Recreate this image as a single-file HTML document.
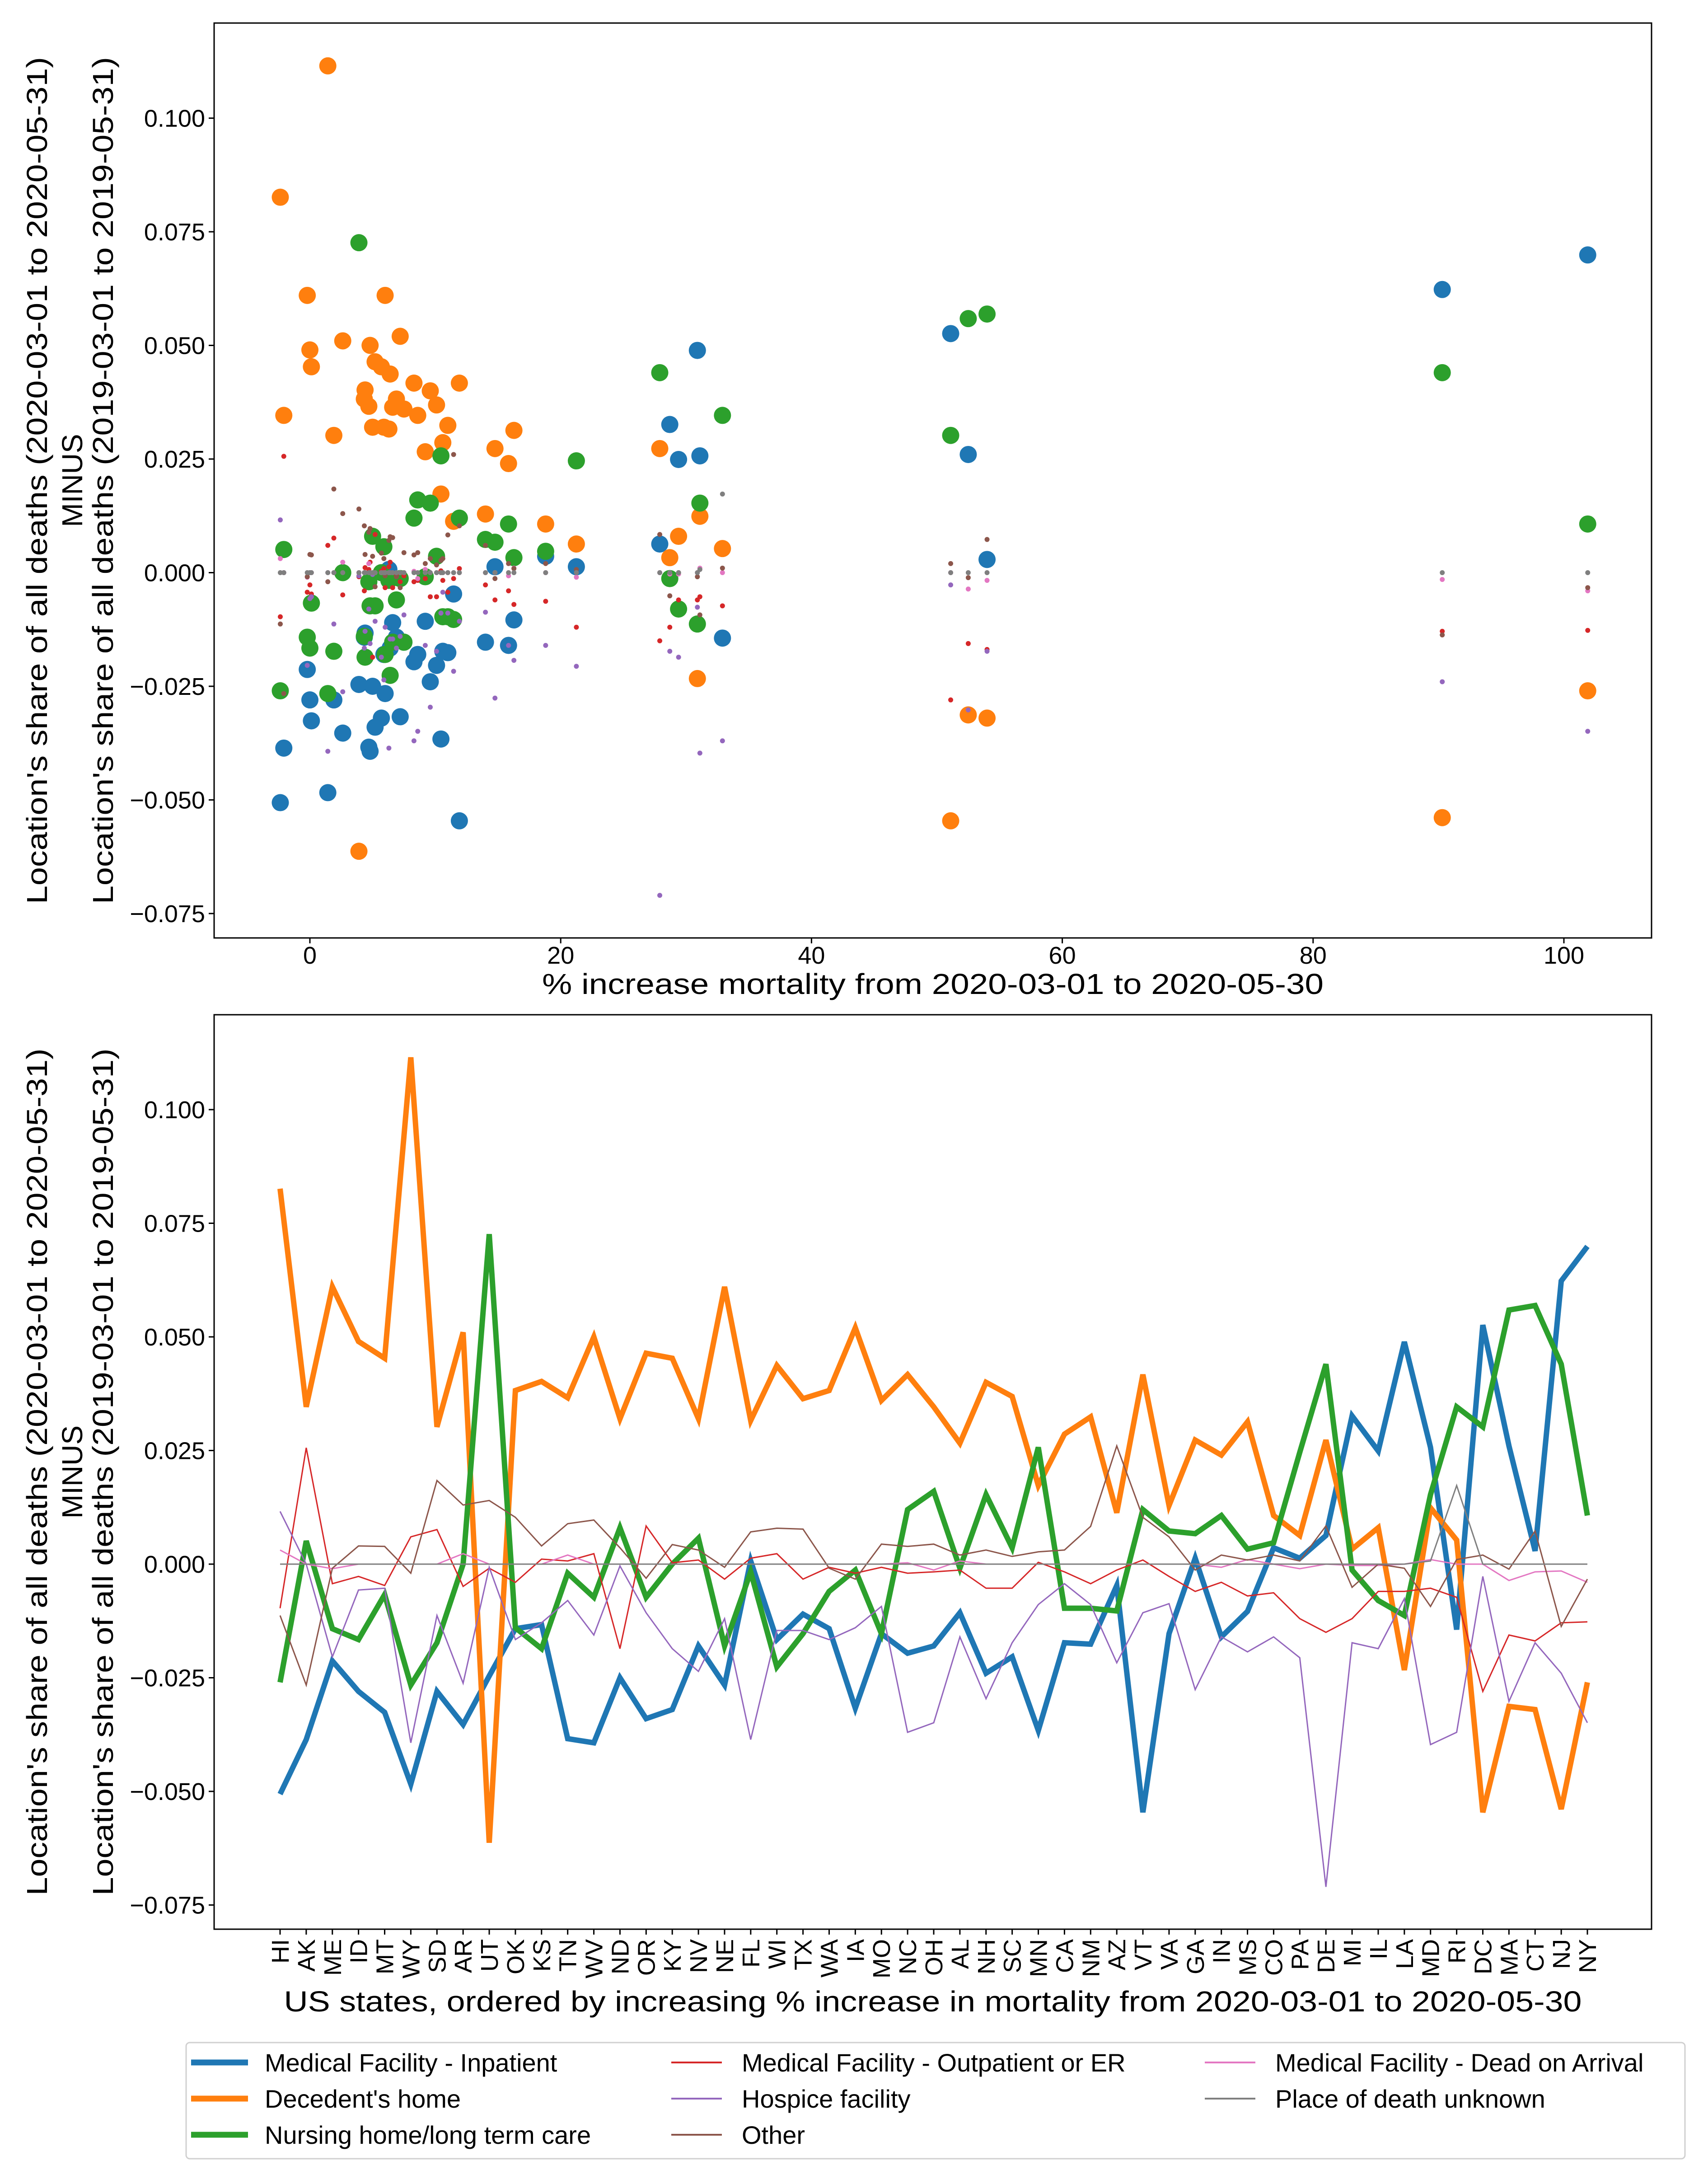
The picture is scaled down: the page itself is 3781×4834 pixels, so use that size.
<!DOCTYPE html>
<html>
<head>
<meta charset="utf-8">
<style>
  html,body{margin:0;padding:0;background:#fff;}
  svg{display:block;font-family:"Liberation Sans","DejaVu Sans",sans-serif;}
</style>
</head>
<body>
<svg id="fig" xmlns="http://www.w3.org/2000/svg" width="3781" height="4834" viewBox="0 0 3781 4834">
  <rect x="0" y="0" width="3781" height="4834" fill="#fff"/>
  <g id="top-chart"></g>
  <g id="bottom-chart"></g>
  <g id="legend"></g>
</svg>
<script>
const states = ["HI","AK","ME","ID","MT","WY","SD","AR","UT","OK","KS","TN","WV","ND","OR","KY","NV","NE","FL","WI","TX","WA","IA","MO","NC","OH","AL","NH","SC","MN","CA","NM","AZ","VT","VA","GA","IN","MS","CO","PA","DE","MI","IL","LA","MD","RI","DC","MA","CT","NJ","NY"];
const pctIncrease = [-2.36,-2.08,-0.21,0.0,0.12,1.43,1.91,2.62,3.91,4.34,4.4,4.7,4.8,5.0,5.2,5.7,5.9,6.0,6.3,6.4,6.6,6.9,7.2,7.5,8.3,8.6,9.2,9.6,10.1,10.45,10.6,11.0,11.46,11.92,14.0,14.76,15.84,16.27,18.8,21.25,27.9,28.7,29.4,30.9,31.1,32.9,51.1,52.5,54.0,90.3,101.9];
const inpatient = [-0.0506,-0.0386,-0.0213,-0.028,-0.0326,-0.0484,-0.028,-0.0353,-0.0246,-0.0142,-0.0133,-0.0384,-0.0393,-0.025,-0.034,-0.032,-0.018,-0.0266,0.0007,-0.0166,-0.011,-0.0142,-0.0317,-0.0153,-0.0196,-0.018,-0.0107,-0.024,-0.0204,-0.0366,-0.0173,-0.0176,-0.0047,-0.0546,-0.0153,0.0013,-0.016,-0.0104,0.0036,0.0013,0.0063,0.0326,0.0249,0.0489,0.0257,-0.0144,0.0526,0.026,0.0029,0.0623,0.0699];
const home = [0.0826,0.0346,0.061,0.049,0.0453,0.1115,0.0302,0.051,-0.0613,0.0382,0.0402,0.0366,0.05,0.032,0.0464,0.0453,0.032,0.061,0.0316,0.0437,0.0364,0.0382,0.052,0.036,0.0417,0.0346,0.0266,0.04,0.0369,0.0173,0.0286,0.0324,0.0113,0.0417,0.0129,0.0273,0.024,0.0313,0.0107,0.0063,0.0273,0.0033,0.008,-0.0233,0.0124,0.0053,-0.0546,-0.0313,-0.032,-0.0539,-0.026];
const nursing = [-0.026,0.0051,-0.0142,-0.0166,-0.0067,-0.0266,-0.0173,0,0.0726,-0.014,-0.0186,-0.002,-0.0073,0.008,-0.0073,0,0.0057,-0.018,-0.0017,-0.0226,-0.0153,-0.006,-0.0013,-0.0153,0.012,0.016,-0.0009,0.0153,0.0036,0.0257,-0.0097,-0.0097,-0.0103,0.012,0.0073,0.0067,0.0107,0.0033,0.0047,0.0246,0.044,-0.0013,-0.008,-0.0113,0.0153,0.0346,0.0302,0.0559,0.0569,0.044,0.0107];
const outpatient = [-0.0097,0.0256,-0.0043,-0.0027,-0.0047,0.006,0.0076,-0.0049,-0.0009,-0.004,0.0011,0.0007,0.0023,-0.0186,0.0084,0.0003,0.0009,-0.0033,0.0013,0.0023,-0.0033,-0.0007,-0.002,-0.0007,-0.002,-0.0017,-0.0013,-0.0053,-0.0053,0.0004,-0.0017,-0.0043,-0.0013,0.0009,-0.0027,-0.006,-0.004,-0.007,-0.0063,-0.012,-0.015,-0.012,-0.006,-0.006,-0.0053,-0.0073,-0.028,-0.0156,-0.0169,-0.0129,-0.0127];
const hospice = [0.0116,0,-0.0204,-0.0057,-0.0053,-0.0393,-0.0113,-0.0262,-0.0007,-0.0166,-0.0129,-0.008,-0.0156,-0.0004,-0.0107,-0.0186,-0.0236,-0.012,-0.0386,-0.0146,-0.0146,-0.0166,-0.014,-0.0093,-0.037,-0.0349,-0.016,-0.0296,-0.0173,-0.0089,-0.0043,-0.0089,-0.0217,-0.0107,-0.0087,-0.0276,-0.016,-0.0193,-0.016,-0.0206,-0.071,-0.0173,-0.0186,-0.0076,-0.0397,-0.037,-0.0027,-0.0302,-0.0173,-0.024,-0.0349];
const doa = [0.0031,0,-0.001,0,0,0,0,0.0023,0,0,0,0.002,0,0,0,0,0,0,0,0,0,0,0,0,0.0003,-0.0013,0.0007,0,0,0,0,0,0,0,0,0,-0.0007,0.001,0,-0.001,0,-0.0003,-0.0003,0,0.001,0,0,-0.0036,-0.0017,-0.0015,-0.004];
const other = [-0.0113,-0.0266,-0.0009,0.004,0.0039,-0.002,0.0184,0.013,0.014,0.0103,0.004,0.0089,0.0097,0.0036,-0.0031,0.0043,0.0031,-0.0007,0.0071,0.0079,0.0077,-0.0009,-0.0033,0.0044,0.0039,0.0044,0.002,0.0031,0.0017,0.0027,0.0031,0.0083,0.026,0.0103,0.006,-0.0013,0.002,0.0009,0.002,0.0007,0.0084,-0.0051,0,-0.0009,-0.0093,0.001,0.002,-0.0011,0.0073,-0.0137,-0.0033];
const unknown = [0,0,0,0,0,0,0,0,0,0,0,0,0,0,0,0,0,0,0,0,0,0,0,0,0,0,0,0,0,0,0,0,0,0,0,0,0,0,0,0,0,0,0,0,0.0007,0.0173,0,0,0,0,0];
const seriesNames = ["Medical Facility - Inpatient","Decedent's home","Nursing home/long term care","Medical Facility - Outpatient or ER","Hospice facility","Medical Facility - Dead on Arrival","Other","Place of death unknown"];
const yTicks = [0.100,0.075,0.050,0.025,0.000,-0.025,-0.050,-0.075];
const yTickLabels = ["0.100","0.075","0.050","0.025","0.000","\u22120.025","\u22120.050","\u22120.075"];
const xTicksTop = [0,20,40,60,80,100];

const NS = "http://www.w3.org/2000/svg";
function mk(tag, attrs, parent){ const e=document.createElementNS(NS,tag); for(const k in attrs) e.setAttribute(k,attrs[k]); if(parent) parent.appendChild(e); return e; }

const seriesData = [inpatient,home,nursing,outpatient,hospice,doa,other,unknown];
const colors = ["#1f77b4","#ff7f0e","#2ca02c","#d62728","#9467bd","#e377c2","#8c564b","#7f7f7f"];
const keys = ["inpatient","home","nursing","outpatient","hospice","doa","other","unknown"];
const big = [true,true,true,false,false,false,false,false];

const L=474, R=3656;
const PX_PER_025 = 251.5;
function yScale(zero){ return v => zero - v/0.025*PX_PER_025; }

function drawYAxis(g, top, bottom, ys, prefix){
  for(let i=0;i<yTicks.length;i++){
    const y = ys(yTicks[i]);
    const t = mk('line',{x1:L-12,y1:y,x2:L,y2:y,stroke:'#000','stroke-width':3},g);
    
    
    const lb = mk('text',{x:L-20,y:y+19,'text-anchor':'end','font-size':54,fill:'#000'},g);
    lb.textContent = yTickLabels[i];
    
    
  }
  const mid = (top+bottom)/2;
  const lines = ["Location's share of all deaths (2020-03-01 to 2020-05-31)","MINUS","Location's share of all deaths (2019-03-01 to 2019-05-31)"];
  const bx = [104,182,250];
  for(let i=0;i<3;i++){
    const tx = mk('text',{x:0,y:0,'text-anchor':'middle','font-size':64,fill:'#000',transform:'translate('+bx[i]+','+mid+') rotate(-90)'},g);
    if(i!==1){ tx.setAttribute('textLength',1875); tx.setAttribute('lengthAdjust','spacingAndGlyphs'); }
    tx.textContent = lines[i];
    
    
  }
}

/* ---------- Top scatter ---------- */
(function(){
  const g = document.getElementById('top-chart');
  const top=51, bottom=2076;
  const ys = yScale(1267.5);
  const xs = v => 686 + v*27.76;
  drawYAxis(g, top, bottom, ys, 'top');
  for(const t of xTicksTop){
    const x = xs(t);
    const tk = mk('line',{x1:x,y1:bottom,x2:x,y2:bottom+12,stroke:'#000','stroke-width':3},g);
    
    
    const lb = mk('text',{x:x,y:2133,'text-anchor':'middle','font-size':54,fill:'#000'},g);
    lb.textContent = String(t);
    
    
  }
  const xt = mk('text',{x:(L+R)/2,y:2200,'text-anchor':'middle','font-size':64,fill:'#000',textLength:1730,lengthAdjust:'spacingAndGlyphs'},g);
  xt.textContent = "% increase mortality from 2020-03-01 to 2020-05-30";
  
  
  for(let s=0;s<seriesData.length;s++){
    const sg = mk('g',{},g);
    
    
    for(let i=0;i<states.length;i++){
      const c = mk('circle',{cx:xs(pctIncrease[i]),cy:ys(seriesData[s][i]),r:big[s]?19:5.5,fill:colors[s]},sg);
      
      
    }
  }
  const fr = mk('rect',{x:L,y:top,width:R-L,height:bottom-top,fill:'none',stroke:'#000','stroke-width':3},g);
  
  
})();

/* ---------- Bottom line chart ---------- */
(function(){
  const g = document.getElementById('bottom-chart');
  const top=2246, bottom=4270;
  const ys = yScale(3462);
  const xs = i => 620 + i*57.88;
  drawYAxis(g, top, bottom, ys, 'bottom');
  for(let i=0;i<states.length;i++){
    const x = xs(i);
    const tk = mk('line',{x1:x,y1:bottom,x2:x,y2:bottom+12,stroke:'#000','stroke-width':3},g);
    
    
    const lb = mk('text',{x:0,y:0,'text-anchor':'end','font-size':54,fill:'#000',transform:'translate('+(x+19)+','+(bottom+22)+') rotate(-90)'},g);
    lb.textContent = states[i];
    
    
  }
  const xt = mk('text',{x:(L+R)/2,y:4452,'text-anchor':'middle','font-size':64,fill:'#000',textLength:2873,lengthAdjust:'spacingAndGlyphs'},g);
  xt.textContent = "US states, ordered by increasing % increase in mortality from 2020-03-01 to 2020-05-30";
  
  
  for(let s=0;s<seriesData.length;s++){
    const pts = seriesData[s].map((v,i)=>xs(i).toFixed(1)+','+ys(v).toFixed(1)).join(' ');
    const pl = mk('polyline',{points:pts,fill:'none',stroke:colors[s],'stroke-width':big[s]?12:3,'stroke-linejoin':'miter','stroke-miterlimit':4},g);
    
    
  }
  const fr = mk('rect',{x:L,y:top,width:R-L,height:bottom-top,fill:'none',stroke:'#000','stroke-width':3},g);
  
  
})();

/* ---------- Legend ---------- */
(function(){
  const g = document.getElementById('legend');
  const box = mk('rect',{x:412,y:4521,width:3318,height:257,rx:8,fill:'#fff',stroke:'#d0d0d0','stroke-width':3},g);
  
  
  const pos = [[423,4565],[1486,4565],[2667,4565],[423,4645],[1486,4645],[2667,4645],[423,4725],[1486,4725]];
  const legendOrder = [0,3,5,1,4,7,2,6];
  for(let k=0;k<legendOrder.length;k++){
    const s = legendOrder[k];
    const [x,y] = pos[k];
    const w = s<3 ? 126 : 112;
    const ln = mk('line',{x1:x,y1:y,x2:x+w,y2:y,stroke:colors[s],'stroke-width':big[s]?13:4},g);
    
    
    const tx = mk('text',{x:x+(s<3?163:156),y:y+20,'font-size':56,fill:'#000'},g);
    tx.textContent = seriesNames[s];
    
    
  }
})();
</script>
</body>
</html>
